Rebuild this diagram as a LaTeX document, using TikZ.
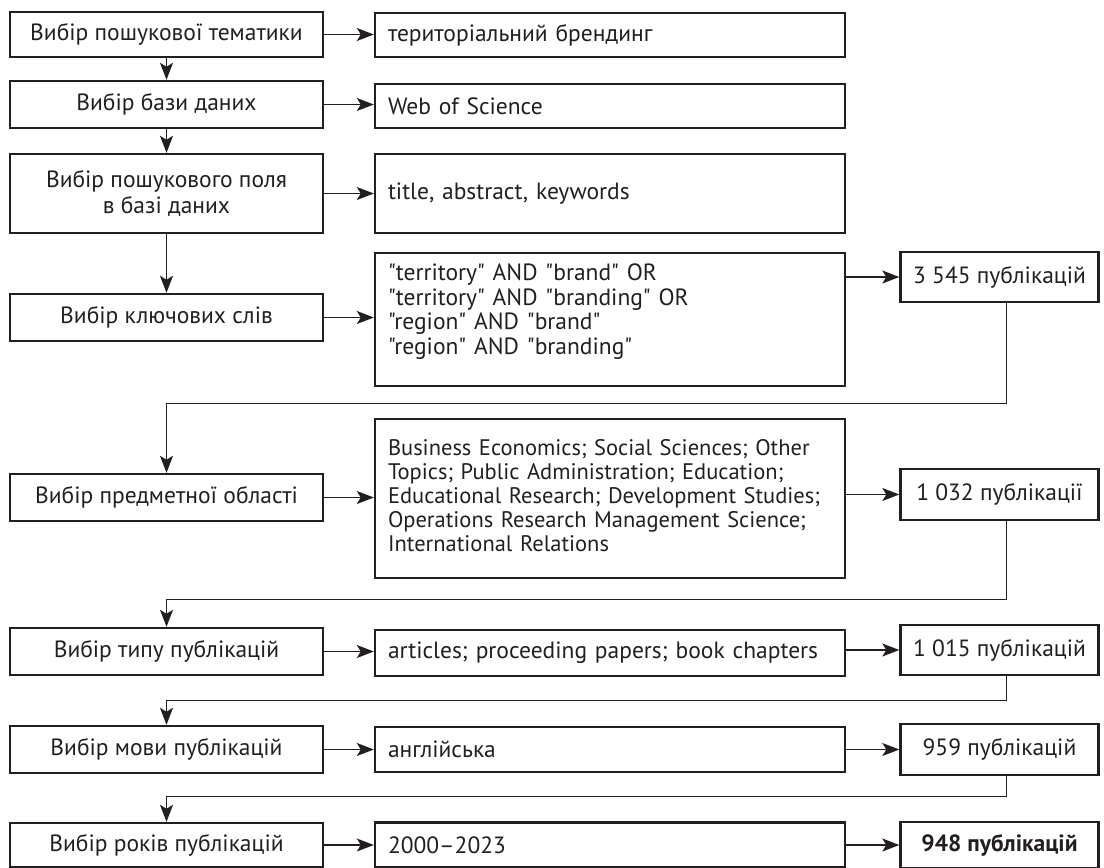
\documentclass[tikz,border=0pt]{standalone}
\usepackage{fontspec}
\setmainfont{PT Sans}[Ligatures=TeXOff]
\usetikzlibrary{arrows.meta}
\definecolor{ink}{HTML}{231F20}
\begin{document}
\begin{tikzpicture}[x=1pt,y=-1pt,>={Stealth[length=17pt,width=13pt,inset=4pt]},
  every node/.style={font=\fontsize{23.5}{24.5}\selectfont,text=ink},
  box/.style={draw=ink,line width=2.4pt,inner sep=0pt},
  lbox/.style={box,minimum width=313pt,minimum height=47pt,align=center},
  mbox/.style={box,minimum height=45pt,text width=444pt,inner xsep=13pt,align=left},
  rbox/.style={box,minimum width=198pt,minimum height=50pt},
  link/.style={draw=ink,line width=1.3pt,->}]
\clip (0,0) rectangle (1104,868);
\path
(166.5,34.5)  node[lbox,minimum height=45pt] (l1) {Вибір пошукової тематики}
(610,35)      node[mbox,minimum height=44pt] (m1) {територіальний брендинг}
(166.5,104.5) node[lbox] (l2) {Вибір бази даних}
(610,106)     node[mbox,minimum height=44pt] (m2) {Web of Science}
(166.5,193.5) node[lbox,minimum height=79pt] (l3) {Вибір пошукового поля\\[2pt]в базі даних}
(610,193.5)   node[mbox,minimum height=79pt] (m3) {title, abstract, keywords}
(166.5,317.5) node[lbox] (l4) {Вибір ключових слів}
(610,319.5)   node[mbox,minimum height=133pt] (m4) {"territory" AND "brand" OR\\"territory" AND "branding" OR\\"region" AND "brand"\\"region" AND "branding"\par\vspace{16pt}}
(999.5,277)   node[rbox] (r4) {3 545 публікацій}
(166.5,497.5) node[lbox] (l5) {Вибір предметної області}
(610,498.5)   node[mbox,minimum height=159pt,font=\fontsize{22.5}{24}\selectfont] (m5) {Business Economics; Social Sciences; Other\\Topics; Public Administration; Education;\\\mbox{Educational Research; Development Studies;}\\Operations Research Management Science;\\International Relations\par\vspace{6pt}}
(999.5,494.5) node[rbox,minimum height=51pt] (r5) {1 032 публікації}
(166.5,651.5) node[lbox] (l6) {Вибір типу публікацій}
(610,653)     node[mbox,minimum height=46pt] (m6) {articles; proceeding papers; book chapters}
(999.5,650)   node[rbox] (r6) {1 015 публікацій}
(166.5,749.5) node[lbox] (l7) {Вибір мови публікацій}
(610,749.5)   node[mbox] (m7) {англійська}
(999.5,749.5) node[rbox,minimum height=51pt] (r7) {959 публікацій}
(166.5,845)   node[lbox,minimum height=44pt] (l8) {Вибір років публікацій}
(610,845)     node[mbox] (m8) {2000–2023}
(999.5,845)   node[rbox,minimum height=46pt] (r8) {\bfseries 948 публікацій};
\draw[link] (l1)--(l2);
\draw[link] (l2)--(l3);
\draw[link] (l3)--(l4);
\foreach \i in {1,...,8}
  \draw[link] (l\i.east)--(l\i.east -| m\i.west);
\foreach \i in {4,...,8}
  \draw[link] (r\i.west -| m\i.east)--(r\i.west);
\foreach \a/\b/\d in {4/5/100,5/6/78,6/7/24,7/8/20}
  \draw[link] ([xshift=7pt]r\a.south)--++(0,\d) -| (l\b.north);
\end{tikzpicture}
\end{document}
